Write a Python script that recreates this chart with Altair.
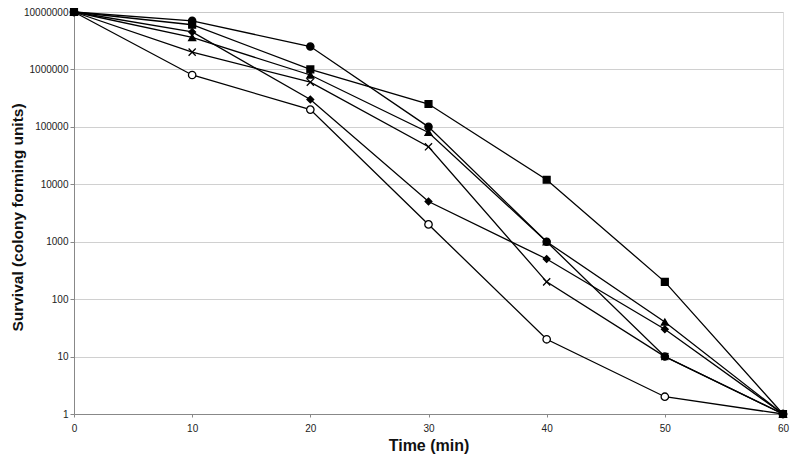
import altair as alt
import pandas as pd

times = [0, 10, 20, 30, 40, 50, 60]
series_names = ["diamond", "square", "triangle", "cross", "filled_circle", "open_circle"]
diamond_vals = [1e7, 4.5e6, 3e5, 5e3, 500, 30, 1]
square_vals = [1e7, 6e6, 1e6, 2.5e5, 1.2e4, 200, 1]
triangle_vals = [1e7, 3.6e6, 8e5, 8e4, 1e3, 40, 1]
cross_vals = [1e7, 2e6, 6e5, 4.5e4, 200, 10, 1]
filled_circle_vals = [1e7, 7e6, 2.5e6, 1e5, 1e3, 10, 1]
open_circle_vals = [1e7, 8e5, 2e5, 2e3, 20, 2, 1]
y_ticks = [1, 10, 100, 1000, 10000, 100000, 1000000, 10000000]
x_ticks = [0, 10, 20, 30, 40, 50, 60]

all_vals = [diamond_vals, square_vals, triangle_vals, cross_vals,
            filled_circle_vals, open_circle_vals]
draw_order = {"diamond": 1, "triangle": 2, "cross": 3, "filled_circle": 4,
              "open_circle": 5, "square": 6}

rows = []
for name, vals in zip(series_names, all_vals):
    for t, v in zip(times, vals):
        rows.append({"time": t, "value": v, "series": name, "ord": draw_order[name]})
df = pd.DataFrame(rows)

FONT = "Liberation Sans"

x_enc = alt.X("time:Q",
              scale=alt.Scale(domain=[0, 60], nice=False, zero=False),
              axis=alt.Axis(values=x_ticks, title="Time (min)", grid=False,
                            tickSize=3, tickColor="#888888", domainColor="#888888",
                            labelPadding=6, labelFontSize=10, labelFont=FONT,
                            labelColor="#222222", titleFont=FONT, titleFontSize=16,
                            titleFontWeight="bold", titleColor="#111111",
                            titleY=31, titleBaseline="middle", labelFlush=False))
y_enc = alt.Y("value:Q",
              scale=alt.Scale(type="log", domain=[1, 1e7], nice=False),
              axis=alt.Axis(values=y_ticks, format="d",
                            title="Survival (colony forming units)",
                            grid=True, gridColor="#c4c4c4", gridWidth=0.8,
                            tickSize=4, tickColor="#888888", domainColor="#888888",
                            labelPadding=2, labelFontSize=10, labelFont=FONT,
                            labelColor="#222222", titleFont=FONT, titleFontSize=15.5,
                            titleFontWeight="bold", titleColor="#111111",
                            titleX=-57, titleY=205, titleAngle=270,
                            titleAlign="center", titleBaseline="middle"))

lines = alt.Chart(df).mark_line(color="black", strokeWidth=1.3).encode(
    x=x_enc, y=y_enc, detail="series:N", order="time:Q")

xpath = "M-1,-1L1,1M-1,1L1,-1"
points = alt.Chart(df).mark_point(opacity=1, strokeWidth=1.3).encode(
    x=x_enc, y=y_enc,
    shape=alt.Shape("series:N", legend=None, scale=alt.Scale(
        domain=series_names,
        range=["diamond", "square", "triangle-up", xpath, "circle", "circle"])),
    fill=alt.Fill("series:N", legend=None, scale=alt.Scale(
        domain=series_names,
        range=["black", "black", "black", "transparent", "black", "white"])),
    size=alt.Size("series:N", legend=None, scale=alt.Scale(
        domain=series_names, range=[45, 55, 50, 40, 50, 45])),
    stroke=alt.value("black"),
    order="ord:Q",
)

chart = alt.layer(lines, points).properties(
    width=709, height=402,
    autosize=alt.AutoSizeParams(type="none"),
    padding={"left": 66, "top": 4, "right": 9, "bottom": 40},
).configure_view(stroke=None).configure(background="white")

chart.save("out.html", embed_options={"renderer": "svg", "actions": False})
